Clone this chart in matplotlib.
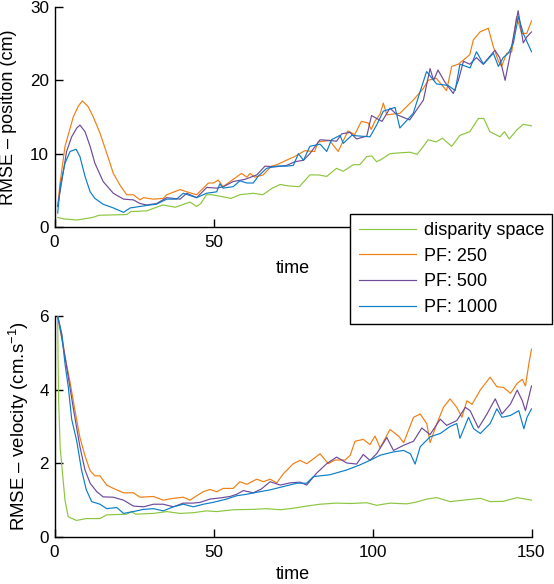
import matplotlib
matplotlib.use("Agg")
import matplotlib.pyplot as plt

plt.rcParams['font.family'] = ['Liberation Sans', 'DejaVu Sans']
plt.rcParams['mathtext.fontset'] = 'custom'
plt.rcParams['mathtext.rm'] = 'Liberation Sans'
plt.rcParams['mathtext.it'] = 'Liberation Sans'

labels = ["disparity space", "PF: 250", "PF: 500", "PF: 1000"]
colors = ["#8cc63e", "#f07f12", "#6e4a9a", "#0b7dc9"]

# ---- position RMSE ----
pos_t_ds = [1,3,7,12,14,22.7,24,29,34,38,42.6,44.7,46,47.8,49.4,52,55.5,58.3,62.5,65.5,68.5,71,73.5,77,80.3,83,85.6,88.7,90.8,94,96,98.2,99.7,101.3,102.7,105.5,108,111.8,114,116,117.5,120,122,124.9,127.5,130.6,133.3,135,136.9,140.1,141.5,143,145.3,147.4,150]
pos_v_ds = [1.3,1.1,0.95,1.3,1.6,1.7,2.1,2.2,3.0,2.7,3.4,2.8,3.2,4.4,4.4,4.2,3.9,4.4,4.6,4.4,5.3,5.8,5.6,5.5,7.1,7.1,6.9,8.0,7.6,8.5,8.5,9.6,9.7,8.9,9.2,10.0,10.1,10.2,9.9,11.0,11.9,11.6,12.1,11.0,12.5,13.0,14.8,14.8,13.0,12.3,13.0,12.0,13.2,14.0,13.8]

pos_t_250 = [1,1.8,3.3,5.9,7.5,8.8,10.6,12.2,14.3,16.4,18.5,20.6,22.7,24.8,26.9,28,31.1,34.2,35.3,39.5,41.6,44.7,46.8,48.4,50,51.5,53,56.2,58.8,60.5,61.5,63,65.6,68.2,70,72.4,75.5,78.7,81.8,82.9,86.5,89.2,92.3,94.4,96.5,98.6,99.6,100.7,102.4,103.4,104.5,108.6,112.8,116,117.5,120,123.3,124.9,127,130.6,131.7,133.8,136.4,138,139.6,140.6,142.2,143.8,145.3,146.9,148.5,150]
pos_v_250 = [2.8,6.2,11.0,15.0,16.5,17.2,16.4,15.0,12.8,10.1,7.3,5.7,4.4,4.4,3.7,4.0,3.8,3.9,4.4,5.1,4.8,4.4,5.3,6.0,6.0,6.4,5.5,6.5,7.3,6.8,7.3,6.8,7.1,8.3,8.5,9.0,9.6,10.4,10.3,11.6,11.8,10.3,13.1,12.6,14.4,14.2,13.3,14.4,15.4,16.9,15.3,15.5,17.3,18.9,20.0,20.3,18.6,21.9,22.2,23.5,25.5,26.6,27.1,24.6,22.6,21.9,23.7,23.9,28.7,26.4,26.4,28.1]

pos_t_500 = [1,3.8,5.4,7,8,9.6,11.2,12.7,15.3,18.5,21.7,24.8,26.9,29,32.1,35.3,39.5,41.6,44.7,47.9,51,53.1,56.2,59.9,63.6,66.2,69.3,73,75.6,78.3,80.3,83.5,86.6,88.7,90.3,92.9,95,98.2,99.7,101.3,103,105.5,107.7,111.7,116,118.1,119.2,120.6,122.7,125.4,127,128.6,130.6,132.7,134.8,138.5,140,141.7,143.2,145.8,147.4,148.5,150]
pos_v_500 = [2.8,10.3,12.3,13.5,13.9,13.0,11.0,8.7,6.2,4.6,3.8,3.7,3.2,3.0,3.2,4.0,3.8,4.6,4.0,5.4,5.3,5.5,6.2,6.5,7.1,8.3,8.2,8.4,8.9,9.1,10.0,11.9,11.8,11.7,12.7,12.9,12.0,12.4,15.2,14.8,14.4,16.2,15.3,14.6,17.3,21.6,20.0,21.4,19.8,18.2,20.0,22.6,22.2,23.1,22.2,24.1,23.1,20.0,23.3,29.5,25.1,25.9,26.6]

pos_t_1000 = [1,1.8,3.3,4.9,6.8,8,9.6,11.2,12.7,15.3,18.5,21.7,23.8,26.9,30,32,35.3,38.4,40.5,44.7,47.8,51,52,53,56.2,58.3,60.5,62.5,64,66.7,69.9,73,75.1,76.7,78.3,80.3,83.5,85.6,87.1,89.8,90.8,93.5,96,99.2,101.3,103.4,107.1,108.6,112.8,117,120.2,123.8,126,127.5,130.7,132.7,134.9,138,139.6,141.1,142.7,144.3,145.9,147.4,150]
pos_v_1000 = [1.9,5.6,8.7,10.3,10.6,9.6,6.9,4.8,3.9,3.1,2.6,2.0,2.6,2.8,3.0,3.1,3.8,3.8,4.6,4.0,4.6,4.8,5.9,5.3,5.5,6.3,6.0,6.0,6.9,8.0,8.3,8.3,8.4,10.0,9.1,11.0,11.3,10.3,11.9,12.5,11.4,12.5,12.4,12.3,13.9,15.8,16.3,13.5,15.5,21.2,19.5,19.3,18.6,22.2,21.7,23.9,22.2,23.7,21.9,23.1,23.7,25.1,28.7,26.4,23.9]

# ---- velocity RMSE ----
vel_t_ds = [1,1.1,1.3,1.8,3.3,4.3,6.9,10,14.3,16.4,22.7,24.2,25.5,31.1,35.3,39.5,43.7,47.8,51,56.2,62.5,66.7,71,75,79.3,83.5,88.7,93,98.2,101.3,105.5,110.8,113.9,117.1,120.2,124.4,128.6,133.9,137,141.2,145.5,150]
vel_v_ds = [6,5.1,3.7,2.4,1.0,0.55,0.45,0.5,0.5,0.6,0.62,0.69,0.62,0.64,0.69,0.64,0.66,0.71,0.69,0.74,0.75,0.77,0.74,0.78,0.84,0.89,0.92,0.91,0.93,0.86,0.92,0.9,0.95,1.03,1.07,0.96,1.0,1.05,0.96,0.97,1.07,1.0]

vel_t_250 = [1,2.3,3.3,4.9,6.4,8,9.6,11.2,12.7,14.3,16.4,18.5,21.7,24.8,26.9,31.1,34.2,37.4,40.5,42.6,44.7,46.8,48.9,51,53.1,56.2,58.3,60.5,63.6,65.7,67.8,69.9,72,75.1,77.2,79.3,81.4,83.5,86.1,88.2,91.4,93,94.5,97.1,99.2,100.8,102.4,105.5,108.2,109.8,112.9,115,117.1,118.1,120.2,122.3,124.4,126.5,128.1,129.7,131.3,133.9,137,139.1,141.2,143.4,145.5,147.1,148.1,149.2,150]
vel_v_250 = [6,5.5,4.9,4.2,3.45,2.7,2.2,1.8,1.66,1.66,1.41,1.32,1.2,1.2,1.08,1.1,1.0,1.05,1.08,1.0,1.12,1.23,1.29,1.23,1.32,1.32,1.5,1.43,1.57,1.5,1.57,1.47,1.72,1.99,2.08,1.99,2.12,2.26,1.99,2.09,2.09,2.22,2.6,2.65,2.51,2.74,2.42,2.92,2.74,2.56,3.25,3.34,3.07,2.56,3.07,3.52,3.75,3.52,3.25,3.7,3.6,3.99,4.34,4.08,4.06,3.9,4.17,4.28,4.1,4.72,5.1]

vel_t_500 = [1,3.3,5.9,8,9.6,11.2,13.3,15.3,18.5,21.7,24.8,28,31.1,34.2,37.4,40.5,43.5,45.8,48.9,52,55.2,57.3,59.4,62.5,65,67.8,71,74.1,77.2,79.3,82.5,85.6,88.7,91.9,95,97.1,99.2,101.3,104.5,106.6,109.8,112.9,115.5,118.1,121.3,123.3,126.5,129.2,130.7,133.3,136,138.6,140.7,143.4,145.5,147.1,148.1,150]
vel_v_500 = [6,4.9,3.5,2.45,1.82,1.46,1.23,1.09,1.08,1.0,0.84,0.82,0.89,0.89,0.82,0.92,0.92,0.94,1.03,1.06,1.1,1.16,1.26,1.2,1.3,1.5,1.41,1.47,1.49,1.41,1.74,1.99,2.17,2.01,1.98,2.24,2.08,2.26,2.7,2.35,2.49,2.6,2.96,2.78,3.2,3.03,3.16,3.52,3.43,2.96,3.34,3.75,3.34,3.61,3.99,3.7,3.43,4.1]

vel_t_1000 = [1,2.3,3.3,4.3,5.4,7,8.5,10,11.7,14.3,16.4,19.6,21.7,24.8,28,31.1,34.2,37.4,40.5,43.7,46.8,49.9,54.1,57.3,60.4,64.6,67.8,72,76.2,79.3,81.4,86.6,91.9,96.1,99.2,102.4,106.6,109.8,111.9,113.4,115,118.1,121.3,124.4,126.5,127.5,130.2,131.8,133.9,137,139.1,140.7,143.4,146,147.6,148.6,150]
vel_v_1000 = [6,5.5,4.7,4.1,3.2,2.6,1.82,1.28,0.96,0.89,0.77,0.8,0.64,0.69,0.75,0.77,0.71,0.82,0.89,0.82,0.89,0.94,1.03,1.12,1.16,1.23,1.28,1.37,1.46,1.46,1.64,1.69,1.82,1.96,2.08,2.22,2.31,2.35,2.26,1.98,2.45,2.72,2.81,3.0,3.08,2.68,3.25,2.94,2.81,3.08,3.48,3.25,3.3,3.43,2.94,3.25,3.48]

x_ticks = [0, 50, 100, 150]
pos_yticks = [0, 10, 20, 30]
vel_yticks = [0, 2, 4, 6]

fig = plt.figure(figsize=(5.54, 5.84), dpi=100)
L, R = 54.5 / 554, 531.5 / 554
ax1 = fig.add_axes([L, 1 - 227 / 584, R - L, 220 / 584])
ax2 = fig.add_axes([L, 1 - 537 / 584, R - L, 221 / 584])

pos_series = [(pos_t_ds, pos_v_ds), (pos_t_250, pos_v_250), (pos_t_500, pos_v_500), (pos_t_1000, pos_v_1000)]
vel_series = [(vel_t_ds, vel_v_ds), (vel_t_250, vel_v_250), (vel_t_500, vel_v_500), (vel_t_1000, vel_v_1000)]

handles = []
for (t, v), c, lab in zip(pos_series, colors, labels):
    h, = ax1.plot(t, v, color=c, lw=0.85, label=lab)
    handles.append(h)
for (t, v), c in zip(vel_series, colors):
    ax2.plot(t, v, color=c, lw=0.85)

FS = 12.3
for ax, yt, ylab, lx, yfs, xpad in [(ax1, pos_yticks, "RMSE \u2013 position (cm)", -0.079, 13.0, 7),
                                    (ax2, vel_yticks, "RMSE \u2013 velocity (cm.s$^{-1}$)", -0.049, 13.4, 4)]:
    ax.set_xlim(0, 150)
    ax.set_ylim(yt[0], yt[-1])
    ax.set_xticks(x_ticks)
    ax.set_yticks(yt)
    ax.spines['top'].set_visible(False)
    ax.spines['right'].set_visible(False)
    for s in ['left', 'bottom']:
        ax.spines[s].set_linewidth(1.0)
    ax.tick_params(direction='in', length=5.5, width=1.0, labelsize=FS)
    ax.tick_params(axis='x', pad=6)
    ax.tick_params(axis='y', pad=4)
    ax.set_xlabel("time", fontsize=13, labelpad=xpad)
    ax.set_ylabel(ylab, fontsize=yfs)
    ax.yaxis.set_label_coords(lx, 0.5)

# the legend hides the top panel's 100 and 150 tick labels in the reference
for lbl in ax1.get_xticklabels()[2:]:
    lbl.set_visible(False)

leg = fig.legend(handles=handles, labels=labels, loc='upper right',
                 bbox_to_anchor=(552 / 554, 1 - 214 / 584), bbox_transform=fig.transFigure,
                 fancybox=False, framealpha=1, edgecolor='black', fontsize=13,
                 handlelength=3.2, handletextpad=0.4, labelspacing=0.48,
                 borderpad=0.45, borderaxespad=0)
leg.get_frame().set_linewidth(1.0)

fig.savefig("out.png", dpi=100)
